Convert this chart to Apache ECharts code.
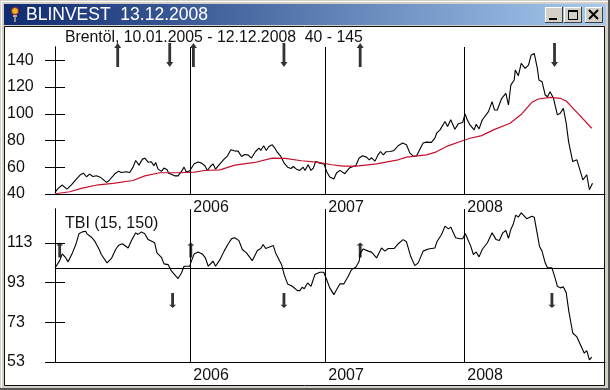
<!DOCTYPE html>
<html>
<head>
<meta charset="utf-8">
<style>html,body{margin:0;padding:0;background:#D4D0C8}#c{width:610px;height:390px}</style>
<script src="https://cdn.jsdelivr.net/npm/echarts@6/dist/echarts.min.js"></script>
</head>
<body>
<div id="c"></div>
<script>
const windowTitle = 'BLINVEST  13.12.2008';
const priceCaption = 'Brentöl, 10.01.2005 - 12.12.2008  40 - 145';
const tbiCaption = 'TBI (15, 150)';
const yearLabels = ['2006', '2007', '2008'];
const yearStarts = [52, 103.9, 157.3];
const priceTicks = [40, 60, 80, 100, 120, 140];
const tbiTicks = [53, 73, 93, 113];
const tbiMid = 100.2;

const priceWeeks = [0,1.2,2.8,4.6,6.3,8.2,9.9,10.9,12.1,13.3,14.6,15.9,17.4,19.8,20.8,23,24.5,25.5,27.4,28.7,30,31,32.3,33.6,34.5,35.8,37,38,38.7,39.6,40.9,41.9,43.1,43.7,46,47.3,48.6,49.6,50.5,51.8,53.5,55,56.3,57.6,58.6,59.9,60.8,61.7,63.4,65,66.3,67.6,68.9,70.4,71.7,73,74.3,75.5,77.1,78.4,79.1,80.2,81.2,82.2,83.5,84.5,85.5,86.8,88.1,89.4,90.7,91.6,92.8,94.1,95.4,96.1,97.3,98.4,99.3,100.2,101.8,103.4,104.4,105.6,107.2,108.2,109.5,111.4,113.1,114.6,115.6,116.9,118.2,119.7,120.8,121.7,123,124.2,125.1,126.2,127.2,129,130.3,131.9,133.6,135.1,136.4,137.9,139,140.3,141.5,142.8,144.7,146,146.7,148,149.9,150.9,152.1,153.7,155,156.7,157.6,158.5,159.5,161.1,161.9,163,164.2,166.6,168,168.9,170,171.7,173.3,174.3,175.2,176.5,176.9,178.1,179.2,180.7,182,183,184.2,185.4,186,187.2,188.4,189.3,190.3,191.6,193.1,194.2,195.4,196.5,197.4,199,200.6,202.9,204.4,205.4,206.6];
const priceValues = [41.2,44.2,46.7,43.7,46.9,51.1,54.6,55.6,52.9,54.9,53.1,53.6,52.6,48.7,50.1,55.1,57.1,56.1,56.6,56.1,60.1,65.1,61.6,66.1,66.8,63.8,64.1,61.1,63.6,58.6,56.9,59.4,58.1,55.6,53.6,53.6,56.9,60.1,56.4,57.4,62.6,63.9,63.1,61.1,57.6,61.1,62.4,58.6,62.6,66.1,68.6,73.1,72.3,72.1,68.1,69.6,69.1,66.9,71.8,74.3,72.6,76.1,72.6,75.6,76.8,74.3,71.1,68.1,63.1,60.1,59.1,60.6,58.6,57.6,60.1,57.6,61.9,57.6,59.4,64.4,63.1,62.4,56.9,52.7,51.2,55.7,57.7,55.2,59.4,60.6,61.1,66.9,68.6,67.6,65.6,67.1,64.6,69.3,71.8,69.3,71.6,71.8,72.6,76.1,78.1,76.8,70.6,68.1,68.6,73.6,78.1,78.8,78.6,81.8,85.5,88,94.2,90.5,95.5,88.5,92.5,93.5,99.9,95.4,91.7,88,92.2,88.7,95.4,101.6,109.1,102.9,102.9,111.6,115.3,106.6,121.5,125.3,132.7,128.5,137.7,134,136.5,143.9,145.2,134,125.3,124,114.1,112.8,116.6,111.6,99.2,100.4,104.1,92.9,79.2,64.3,65.6,50.6,54.4,43.2,48.1];

const avgWeeks = [0,5.7,10.1,16.6,22.3,30,34.5,40.3,47.3,53.7,57.6,63.4,69.1,76.8,83.5,88.4,94.8,101.2,106.3,110.8,115.9,123.6,131.9,135.1,142.8,146,150.5,156.9,159.5,164,168.5,174.9,179.4,183.3,185.8,190.3,194.2,196.5,200.6,206.3];
const avgValues = [40.2,41.7,44.2,46.9,47.9,50.1,53.6,55.9,55.9,56.4,57.6,58.1,61.6,63.6,66.9,66.6,64.9,63.6,61.9,60.9,60.9,62.6,65.6,67.6,69.3,71.1,75.6,80,81.7,83.7,88,92.9,99.9,108.6,111.1,112.3,111.6,109.6,101.1,89.2];

const tbiWeeks = [0,1.8,2.8,4,5,6.7,8,9.2,10.5,11.8,12.3,14,15.3,17,17.8,20,21.7,23.3,24.5,25.9,28.1,29.4,31,31.9,33.2,34.5,35.8,38.3,39.2,40.9,41.9,43.5,44.8,47.3,48.6,49.6,51.8,52.2,53.5,55,56.6,57.8,58.9,59.5,60.8,61.7,63.4,65,66.6,67.9,69.1,70.7,72,73.6,75.8,77.8,79.1,80,81,82.2,83.9,84.8,87.1,88.1,89.4,91.2,93.2,94.1,95,95.8,97.1,98.4,99.9,101.8,103.3,104.4,105.6,107.2,108.2,109.5,111,112.7,114,115.6,116.9,117.4,118.5,120.4,121.7,123.6,125.5,126.8,128.1,130.3,131.9,133.8,135.1,136.7,138.3,139.6,141.5,143.5,146,146.9,148.6,149.9,151.2,152.1,154,155.6,156.7,157.7,159.8,160.8,161.9,163,164.2,166.2,168,169.5,170.8,172.1,173.3,174.3,175.2,176.2,177.1,178.1,179.2,181.3,183.3,184.2,185.4,186.2,187.2,188.4,189.3,191,192.2,193.1,194.2,195.4,196.5,197.5,199,200.6,203.4,204.4,205.4,206.3];
const tbiValues = [100.3,104,107.4,105.7,103.4,107.9,112.1,117.5,118.5,118.8,117.5,115.8,113.8,109.6,107.1,102.9,105.1,109.6,111.8,112.5,110.4,114.1,118,117.2,118.5,117.5,114.6,113,107.9,105.7,102.4,102,98.7,95,97.8,101.2,101.2,103,107.4,108.4,107.4,105.4,101.2,100.7,103.7,101.2,104.5,108.8,112.5,115.1,115.5,114.1,109.6,107.9,104,109.1,110.1,112.1,110.1,110.8,111.6,107.9,102,97,92.3,91.1,88.9,88.9,90.6,89.9,92.8,91.1,97,98.2,98.2,94.5,90.3,86.9,89.4,92.3,92.3,96.2,99.5,100.7,103.7,107.9,109.9,108.8,108.3,105.4,110.4,108.8,110.1,110.1,112.5,114.6,113.5,106.2,101.5,102.9,108.8,109.9,110.4,113.8,117.2,121.4,120,120.9,115.5,115,115,117.7,111.3,107.1,108.4,105.9,109.6,113,118,114.7,114.1,118,119.2,115.2,119.7,122.6,126.9,125.9,128.1,125.1,126.4,125.9,117.2,111.3,108.8,102.9,100.4,100.4,95.3,91.1,90.3,90.8,87.8,78.5,67.6,65.6,57.5,58.7,54.1,55.5];

const priceUpWeeks = [24.1, 53.2, 117.3];
const priceDownWeeks = [44.1, 88, 192];
const priceArrowLevel = 144;
const tbiUpWeeks = [1.8, 52.2, 117.3];
const tbiDownWeeks = [45.2, 88, 191];
const tbiUpLevel = 109.4;
const tbiDownLevel = 84;

const UP = 'path://M3 0L6 5L4.2 5L4.2 24L1.8 24L1.8 5L0 5Z';
const DOWN = 'path://M3 24L6 19L4.2 19L4.2 0L1.8 0L1.8 19L0 19Z';
const FONT = '"Liberation Sans", Arial, sans-serif';
const INK = '#111';
const pair = (xs, ys) => xs.map((x, i) => [x, ys[i]]);
const at = (xs, y) => xs.map(x => [x, y]);

function xAxis(gridIndex) {
  return {
    type: 'value', gridIndex, min: 0, max: 211.4,
    axisLine: { show: true, onZero: false, lineStyle: { color: '#000', width: 1 } },
    axisTick: { show: false }, splitLine: { show: false },
    axisLabel: {
      show: true, customValues: yearStarts, align: 'left', margin: 6,
      padding: [0, 0, 0, 3], color: INK, fontFamily: FONT, fontSize: 16,
      formatter: v => yearLabels[yearStarts.indexOf(v)]
    }
  };
}
function yAxes(gridIndex, min, max, ticks) {
  const base = {
    type: 'value', gridIndex, min, max, position: 'left',
    axisLine: { show: true, lineStyle: { color: '#000', width: 1 } }, splitLine: { show: false }
  };
  return [
    Object.assign({}, base, {
      axisTick: { show: true, length: 10, customValues: ticks, lineStyle: { color: '#000' } },
      axisLabel: { show: true, customValues: ticks, align: 'left', margin: 48, padding: [2, 0, 0, 0], color: INK, fontFamily: FONT, fontSize: 16 }
    }),
    Object.assign({}, base, {
      axisTick: { show: true, inside: true, length: 10, customValues: ticks, lineStyle: { color: '#000' } },
      axisLabel: { show: false }
    })
  ];
}
const yearMarks = {
  silent: true, symbol: 'none', animation: false, label: { show: false },
  lineStyle: { color: '#000', width: 1, type: 'solid' },
  data: yearStarts.map(x => ({ xAxis: x }))
};
function line(name, xi, yi, data, color, width, extra) {
  return Object.assign({
    name, type: 'line', xAxisIndex: xi, yAxisIndex: yi, data, symbol: 'none', smooth: false,
    lineStyle: { color, width }, silent: true
  }, extra || {});
}
function arrows(name, xi, yi, data, symbol, size) {
  return { name, type: 'scatter', xAxisIndex: xi, yAxisIndex: yi, data, symbol, symbolSize: size, clip: false, itemStyle: { color: '#000' }, silent: true };
}
function button(x) {
  return [
    { type: 'rect', z: -5, shape: { x, y: 7, width: 18, height: 16 }, style: { fill: '#404040' } },
    { type: 'rect', z: -5, shape: { x, y: 7, width: 17, height: 15 }, style: { fill: '#fff' } },
    { type: 'rect', z: -5, shape: { x: x + 1, y: 8, width: 16, height: 14 }, style: { fill: '#D4D0C8' } }
  ];
}
const black = s => Object.assign({ type: 'rect', z: -4, style: { fill: '#000' } }, { shape: s });

const chrome = [
  { type: 'rect', z: -10, shape: { x: 0, y: 0, width: 610, height: 390 }, style: { fill: '#D4D0C8' } },
  { type: 'rect', z: -10, shape: { x: 1, y: 1, width: 609, height: 1 }, style: { fill: '#fff' } },
  { type: 'rect', z: -10, shape: { x: 1, y: 1, width: 1, height: 388 }, style: { fill: '#fff' } },
  { type: 'rect', z: -10, shape: { x: 0, y: 388, width: 610, height: 2 }, style: { fill: '#555' } },
  { type: 'rect', z: -10, shape: { x: 608, y: 0, width: 2, height: 390 }, style: { fill: '#555' } },
  { type: 'rect', z: -9, shape: { x: 4, y: 4, width: 602, height: 21 },
    style: { fill: { type: 'linear', x: 0, y: 0, x2: 1, y2: 0, colorStops: [{ offset: 0, color: '#0F2A70' }, { offset: 1, color: '#A6CAF0' }] } } },
  { type: 'rect', z: -9, shape: { x: 4.5, y: 26.5, width: 600, height: 359 }, style: { fill: '#fff', stroke: '#111', lineWidth: 1 } },
  { type: 'circle', z: -4, shape: { cx: 15, cy: 11, r: 3.5 }, style: { fill: '#E8B820', stroke: '#B02020' } },
  { type: 'rect', z: -4, shape: { x: 13, y: 15, width: 4, height: 2 }, style: { fill: '#B0B0B0' } },
  { type: 'rect', z: -4, shape: { x: 14, y: 17, width: 2, height: 5 }, style: { fill: '#909090' } },
  ...button(545), ...button(564), ...button(585),
  black({ x: 549, y: 18, width: 8, height: 2 }),
  black({ x: 568, y: 10, width: 10, height: 2 }), black({ x: 568, y: 10, width: 1, height: 10 }),
  black({ x: 577, y: 10, width: 1, height: 10 }), black({ x: 568, y: 19, width: 10, height: 1 }),
  { type: 'line', z: -4, shape: { x1: 589, y1: 10, x2: 598, y2: 19 }, style: { stroke: '#000', lineWidth: 2 } },
  { type: 'line', z: -4, shape: { x1: 598, y1: 10, x2: 589, y2: 19 }, style: { stroke: '#000', lineWidth: 2 } }
];

const chart = echarts.init(document.getElementById('c'), null, { renderer: 'canvas' });
chart.setOption({
  animation: false,
  backgroundColor: 'transparent',
  tooltip: { show: false },
  graphic: chrome,
  title: [
    { text: windowTitle, left: 26, top: 6, padding: 0, textStyle: { color: '#fff', fontFamily: FONT, fontSize: 17.5, fontWeight: 'normal' } },
    { text: priceCaption, left: 65, top: 30, padding: 0, textStyle: { color: INK, fontFamily: FONT, fontSize: 15.8, fontWeight: 'normal' } },
    { text: tbiCaption, left: 65, top: 216, padding: 0, textStyle: { color: INK, fontFamily: FONT, fontSize: 16, fontWeight: 'normal' } }
  ],
  grid: [
    { left: 55, right: 5, top: 47, height: 147 },
    { left: 55, right: 5, top: 209, height: 153 }
  ],
  xAxis: [xAxis(0), xAxis(1)],
  yAxis: [...yAxes(0, 40, 150, priceTicks), ...yAxes(1, 53, 130, tbiTicks)],
  series: [
    line('Brentöl', 0, 0, pair(priceWeeks, priceValues), '#000', 1.1, { markLine: yearMarks, z: 3 }),
    line('Average', 0, 0, pair(avgWeeks, avgValues), '#C8102E', 1.2, { z: 4 }),
    line('TBI', 1, 2, pair(tbiWeeks, tbiValues), '#000', 1.1, {
      markLine: Object.assign({}, yearMarks, { data: [...yearMarks.data, { yAxis: tbiMid }] })
    }),
    arrows('Price up', 0, 0, at(priceUpWeeks, priceArrowLevel), UP, [7, 24]),
    arrows('Price down', 0, 0, at(priceDownWeeks, priceArrowLevel), DOWN, [7, 24]),
    arrows('TBI up', 1, 2, at(tbiUpWeeks, tbiUpLevel), UP, [7, 15]),
    arrows('TBI down', 1, 2, at(tbiDownWeeks, tbiDownLevel), DOWN, [7, 15])
  ]
});
</script>
</body>
</html>
